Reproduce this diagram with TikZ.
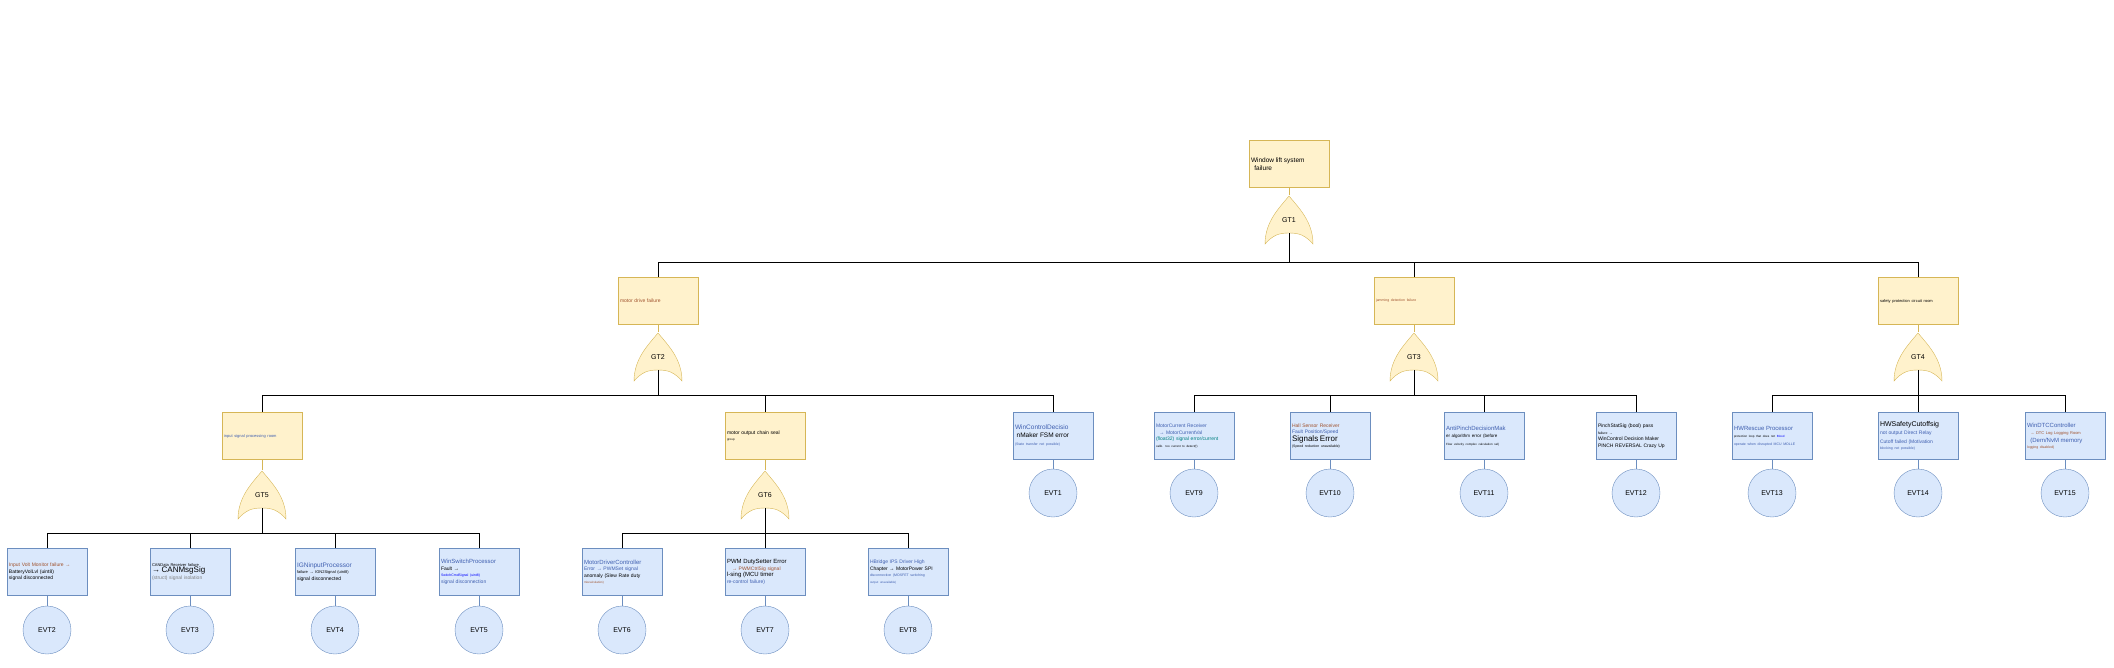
\documentclass[tikz,border=0pt]{standalone}
\usepackage{fontspec}
\setmainfont{Liberation Sans}
\usetikzlibrary{calc}
\definecolor{gatefill}{HTML}{FFF2CC}
\definecolor{gateline}{HTML}{D6B656}
\definecolor{evfill}{HTML}{DAE8FC}
\definecolor{evline}{HTML}{6C8EBF}
\definecolor{txtblue}{HTML}{3F5FB0}
\definecolor{txtbrown}{HTML}{A0522D}
\tikzset{
  gbox/.style={draw=gateline,fill=gatefill,minimum width=80pt,minimum height=47pt,
    text width=76pt,align=left,inner sep=2pt,font=\fontsize{5}{6.5}\selectfont},
  ebox/.style={draw=evline,fill=evfill,minimum width=80pt,minimum height=47pt,
    text width=76pt,align=left,inner sep=2pt,font=\fontsize{5}{6.5}\selectfont},
  orgate/.style={minimum width=50pt,minimum height=50pt,inner sep=0pt,font=\fontsize{7}{8}\selectfont,
    path picture={\draw[gateline,fill=gatefill] ([yshift=-1pt]path picture bounding box.north)
      .. controls +(10pt,-12pt) and +(0pt,22pt) .. ([xshift=-1pt,yshift=1pt]path picture bounding box.south east)
      .. controls +(-8pt,9pt) and +(10pt,0pt) .. ([yshift=12pt]path picture bounding box.south)
      .. controls +(-10pt,0pt) and +(8pt,9pt) .. ([xshift=1pt,yshift=1pt]path picture bounding box.south west)
      .. controls +(0pt,22pt) and +(-10pt,-12pt) .. ([yshift=-1pt]path picture bounding box.north);}},
  evt/.style={circle,draw=evline,fill=evfill,minimum size=48pt,inner sep=0pt,font=\fontsize{7}{8}\selectfont},
  bar/.style={black,line width=0.8pt},
  link/.style={draw=gateline,line width=0.6pt},
  elink/.style={draw=evline,line width=0.6pt}
}
\begin{document}
\begin{tikzpicture}[x=1pt,y=-1pt]
\useasboundingbox (0,0) rectangle (2114,667);
% top event
\node[gbox] (top) at (1289,164) {\fontsize{6.5}{8}\selectfont Window lift system\\ \ \ failure\\[12pt]};
\node[orgate] (g1) at (1289,220) {GT1};
% second level
\node[gbox] (m2) at (658,301) {\textcolor{txtbrown}{motor drive failure}\\[24pt]};
\node[orgate] (g2) at (658,357) {GT2};
\node[gbox] (m3) at (1414,301) {\fontsize{3.5}{4}\selectfont\textcolor{txtbrown}{jamming detection failure}\\[30pt]};
\node[orgate] (g3) at (1414,357) {GT3};
\node[gbox] (m4) at (1918,301) {\fontsize{4}{5}\selectfont safety protection circuit room\\[24pt]};
\node[orgate] (g4) at (1918,357) {GT4};
% third level
\node[gbox] (m5) at (262,436) {\fontsize{4}{5}\selectfont\textcolor{txtblue}{input signal processing room}\\[24pt]};
\node[orgate] (g5) at (262,495) {GT5};
\node[gbox] (m6) at (765,436) {motor output chain seal\\{\fontsize{3}{4}\selectfont group}\\[18pt]};
\node[orgate] (g6) at (765,495) {GT6};
\node[ebox] (b1) at (1053,436) {\fontsize{6.5}{8}\selectfont\textcolor{txtblue}{WinControlDecisio}\\ \ nMaker FSM error\\{\fontsize{3.5}{5}\selectfont\textcolor{txtblue}{(State transfer not possible)}}\\[6pt]};
\node[evt] (e1) at (1053,493) {EVT1};
\node[ebox] (b9) at (1194,436) {\textcolor{txtblue}{MotorCurrent Receiver}\\ \ \ \textcolor{txtblue}{→ MotorCurrentVal}\\\textcolor{teal}{(float32) signal error/current}\\{\fontsize{3}{4}\selectfont calib. too current to detect(f)}\\[6pt]};
\node[evt] (e9) at (1194,493) {EVT9};
\node[ebox] (b10) at (1330,436) {\textcolor{txtbrown}{Hall Sensor Receiver}\\\textcolor{txtblue}{Fault Position/Speed}\\{\fontsize{8}{9}\selectfont Signals Error}\\{\fontsize{3.5}{5}\selectfont (Speed reduction unavailable)}};
\node[evt] (e10) at (1330,493) {EVT10};
\node[ebox] (b11) at (1484,436) {\fontsize{6}{7.5}\selectfont\textcolor{txtblue}{AntiPinchDecisionMak}\\{\fontsize{4.5}{6}\selectfont er algorithm error (before}\\{\fontsize{3}{4}\selectfont Flow velocity complex calculation sel)}\\[10pt]};
\node[evt] (e11) at (1484,493) {EVT11};
\node[ebox] (b12) at (1636,436) {PinchStatSig (bool) pass\\{\fontsize{3.5}{4.5}\selectfont failure →}\\WinControl Decision Maker\\PINCH REVERSAL Crazy Up\\[4pt]};
\node[evt] (e12) at (1636,493) {EVT12};
\node[ebox] (b13) at (1772,436) {\fontsize{6}{7.5}\selectfont\textcolor{txtblue}{HWRescue Processor}\\{\fontsize{3}{5}\selectfont protection loop that does not \textcolor{blue}{Blood}}\\{\fontsize{3.5}{5}\selectfont\textcolor{txtblue}{operate when disrupted MCU MOLLE}}\\[10pt]};
\node[evt] (e13) at (1772,493) {EVT13};
\node[ebox] (b14) at (1918,436) {\fontsize{7}{8.5}\selectfont HWSafetyCutoffsig\\{\fontsize{5}{6.5}\selectfont\textcolor{txtblue}{not output Direct Relay}}\\{\fontsize{5}{6.5}\selectfont\textcolor{txtblue}{Cutoff failed (Motivation}}\\{\fontsize{3.5}{5}\selectfont\textcolor{txtblue}{blocking not possible)}}};
\node[evt] (e14) at (1918,493) {EVT14};
\node[ebox] (b15) at (2065,436) {\fontsize{6}{7.5}\selectfont\textcolor{txtblue}{WinDTCController}\\{\fontsize{4}{5}\selectfont\textcolor{txtbrown}{\ \ → DTC Log Logging Room}}\\\textcolor{txtblue}{\ \ (Dem/NvM memory}\\{\fontsize{3.5}{5}\selectfont\textcolor{txtbrown}{logging disabled)}}};
\node[evt] (e15) at (2065,493) {EVT15};
% bottom level
\node[ebox] (b2) at (47,572) {\textcolor{txtbrown}{Input Volt Monitor failure →}\\BatteryVolLvl (uint8)\\signal disconnected\\[8pt]};
\node[evt] (e2) at (47,630) {EVT2};
\node[ebox] (b3) at (190,572) {{\fontsize{4}{5}\selectfont CANData Receiver failure}\\{\fontsize{8}{9.5}\selectfont → CANMsgSig}\\\textcolor{gray}{(struct) signal isolation}\\[8pt]};
\node[evt] (e3) at (190,630) {EVT3};
\node[ebox] (b4) at (335,572) {{\fontsize{6.5}{8}\selectfont\textcolor{txtblue}{IGNinputProcessor}}\\{\fontsize{4}{5}\selectfont failure → IGN2Signal (uint8)}\\signal disconnected\\[8pt]};
\node[evt] (e4) at (335,630) {EVT4};
\node[ebox] (b5) at (479,572) {{\fontsize{6}{7.5}\selectfont\textcolor{txtblue}{WinSwitchProcessor}}\\Fault →\\{\fontsize{3.5}{5}\selectfont\textcolor{blue}{SwitchCmdSignal (uint8)}}\\\textcolor{txtblue}{signal disconnection}\\[4pt]};
\node[evt] (e5) at (479,630) {EVT5};
\node[ebox] (b6) at (622,572) {{\fontsize{6}{7.5}\selectfont\textcolor{txtblue}{MotorDriverController}}\\\textcolor{txtblue}{Error → PWMSet signal}\\anomaly (Slew Rate duty\\{\fontsize{3}{4}\selectfont\textcolor{txtbrown}{miscalculation)}}\\[4pt]};
\node[evt] (e6) at (622,630) {EVT6};
\node[ebox] (b7) at (765,572) {{\fontsize{6}{7.5}\selectfont PWM DutySetter Error}\\\ \ \ \textcolor{txtbrown}{→ PWMCtrlSig signal}\\{\fontsize{6}{7.5}\selectfont l-sing (MCU timer}\\\textcolor{txtblue}{re-control failure)}};
\node[evt] (e7) at (765,630) {EVT7};
\node[ebox] (b8) at (908,572) {\textcolor{txtblue}{HBridge IPS Driver High}\\Chapter → MotorPower SPI\\{\fontsize{3.5}{5}\selectfont\textcolor{txtblue}{disconnection (MOSFET switching}}\\{\fontsize{3}{4}\selectfont\textcolor{txtblue}{output unavailable)}}\\[6pt]};
\node[evt] (e8) at (908,630) {EVT8};
% box to gate / event links
\foreach \b/\g in {top/g1,m2/g2,m3/g3,m4/g4,m5/g5,m6/g6}
  \draw[link] (\b.south) -- (\g.north);
\foreach \i in {1,...,15}
  \draw[elink] (b\i.south) -- (e\i.north);
% gate outputs
\foreach \c in {m2,m3,m4}
  \draw[bar] ([yshift=12pt]g1.south) -- ++(0,29) -| (\c.north);
\foreach \c in {m5,m6,b1}
  \draw[bar] ([yshift=12pt]g2.south) -- ++(0,25) -| (\c.north);
\foreach \c in {b9,b10,b11,b12}
  \draw[bar] ([yshift=12pt]g3.south) -- ++(0,25) -| (\c.north);
\foreach \c in {b13,b14,b15}
  \draw[bar] ([yshift=12pt]g4.south) -- ++(0,25) -| (\c.north);
\foreach \c in {b2,b3,b4,b5}
  \draw[bar] ([yshift=12pt]g5.south) -- ++(0,25) -| (\c.north);
\foreach \c in {b6,b7,b8}
  \draw[bar] ([yshift=12pt]g6.south) -- ++(0,25) -| (\c.north);
\end{tikzpicture}
\end{document}
